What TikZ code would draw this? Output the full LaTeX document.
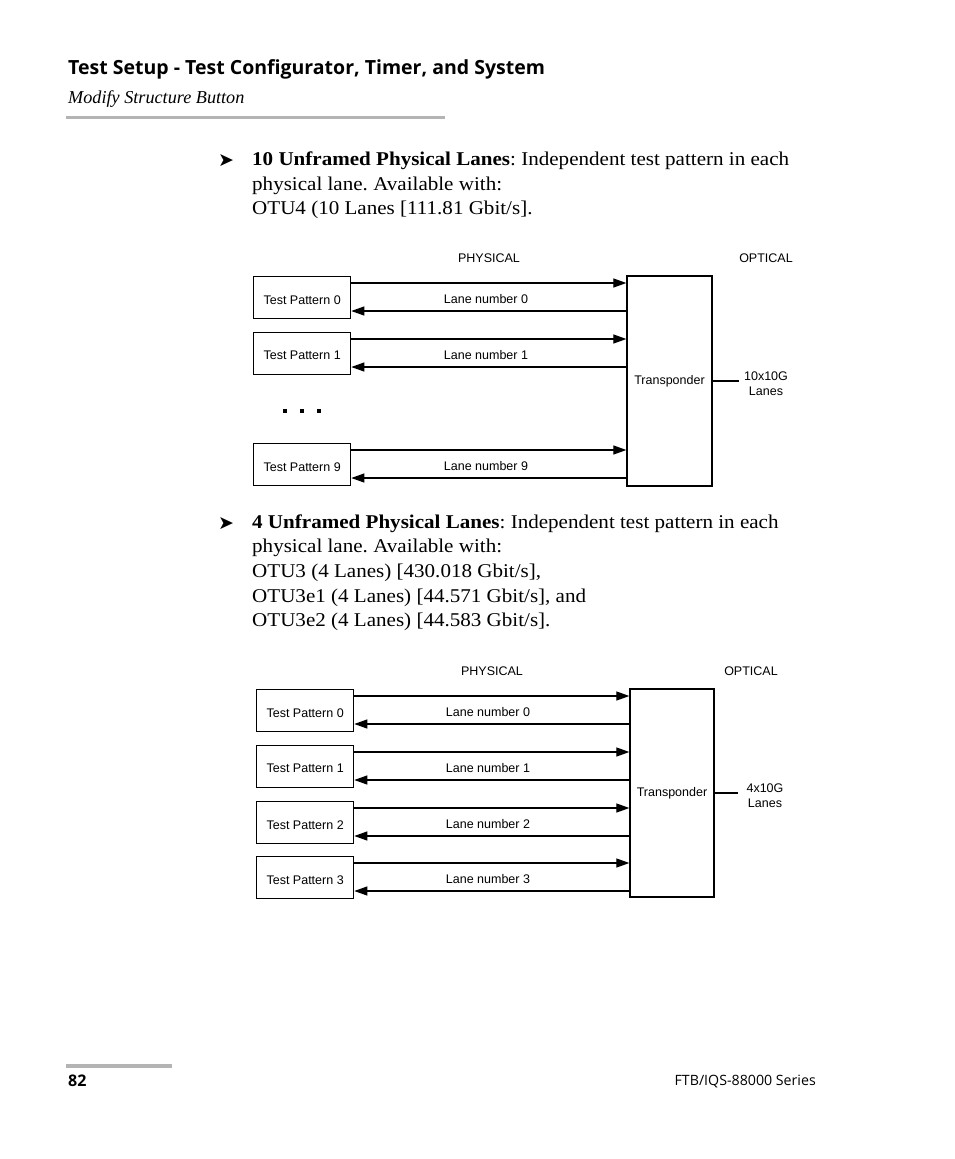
\documentclass[tikz,border=0pt]{standalone}
\usepackage{fontspec}
\setmainfont{Liberation Serif}
\setsansfont{Liberation Sans}
\newfontfamily\bodyfont[FakeStretch=1.08]{Liberation Serif}
\newfontfamily\headfont{Open Sans}
\newfontfamily\symfont{DejaVu Sans}
\usetikzlibrary{arrows.meta}
\definecolor{rulegray}{HTML}{B4B4B4}
\frenchspacing
\newcommand{\lowerlbl}[1]{\raisebox{-2pt}[\height][0pt]{#1}}
\tikzset{
  diagtext/.style={font=\sffamily\fontsize{12.5}{15}\selectfont, inner sep=0pt},
  tpbox/.style={draw, line width=1.3pt, minimum width=97pt, minimum height=42pt, inner sep=0pt, anchor=north west, diagtext},
  trbox/.style={draw, line width=1.3pt, inner sep=0pt, diagtext},
  lanefwd/.style={line width=1.2pt, -{Triangle[length=13pt,width=9pt]}},
  lanelbl/.style={diagtext},
  bodytext/.style={font=\bodyfont\fontsize{19.5}{24}\selectfont, inner sep=0pt, anchor=base west},
  bullet/.style={font=\symfont\fontsize{19}{22}\selectfont, inner sep=0pt, anchor=base west},
}
\begin{document}
\begin{tikzpicture}[x=1pt,y=-1pt]
\useasboundingbox (0,0) rectangle (954,1159);
\fill[white] (0,0) rectangle (954,1159);

% header
\node[font=\headfont\bfseries\fontsize{19.5}{23}\selectfont, inner sep=0pt, anchor=base west] (title) at (68,74) {Test Setup - Test Configurator, Timer, and System};
\node[font=\itshape\fontsize{18.2}{21}\selectfont, inner sep=0pt, anchor=base west] (subtitle) at (68,103) {Modify Structure Button};
\draw[rulegray, line width=3pt] (66,117) -- (445,117);

% bullet 1
\node[bullet] (b1) at (218,166) {➤};
\node[bodytext] (b1l1) at (252,165) {\textbf{10 Unframed Physical Lanes}: Independent test pattern in each};
\node[bodytext] (b1l2) at (252,190) {physical lane. Available with:};
\node[bodytext] (b1l3) at (252,214) {OTU4 (10 Lanes [111.81 Gbit/s].};

% diagram 1
\node[diagtext] (phys1) at (489,258) {PHYSICAL};
\node[diagtext] (opt1) at (766,258) {OPTICAL};
\node[trbox, minimum width=85pt, minimum height=210pt] (tr1) at (669.5,381) {Transponder};
\foreach \i/\y/\lbl in {0/276/0, 1/332/1, 9/443/9}{
  \node[tpbox] (p1\i) at (253,\y) {\lowerlbl{Test Pattern \lbl}};
  \draw[lanefwd] ([yshift=-7pt]p1\i.north east) -- ([yshift=-7pt]p1\i.north east -| tr1.west);
  \draw[lanefwd] ([yshift=-35pt]p1\i.north east -| tr1.west) -- ([yshift=-35pt]p1\i.north east);
  \node[lanelbl] (l1\i) at (486,\y+23.5) {Lane number \lbl};
}
\coordinate (o1) at (739,381);
\draw[line width=1.2pt] (tr1.east) -- (o1);
\node[diagtext, align=center, font=\sffamily\fontsize{12.5}{15}\selectfont] (ol1) at (766,384) {10x10G\\Lanes};
\foreach \x in {285,302,319}{
  \fill (\x-1.6,409.4) rectangle (\x+1.6,412.6);
}

% bullet 2
\node[bullet] (b2) at (218,529) {➤};
\node[bodytext] (b2l1) at (252,528) {\textbf{4 Unframed Physical Lanes}: Independent test pattern in each};
\node[bodytext] (b2l2) at (252,552) {physical lane. Available with:};
\node[bodytext] (b2l3) at (252,577) {OTU3 (4 Lanes) [430.018 Gbit/s],};
\node[bodytext] (b2l4) at (252,602) {OTU3e1 (4 Lanes) [44.571 Gbit/s], and};
\node[bodytext] (b2l5) at (252,626) {OTU3e2 (4 Lanes) [44.583 Gbit/s].};

% diagram 2
\node[diagtext] (phys2) at (492,671) {PHYSICAL};
\node[diagtext] (opt2) at (751,671) {OPTICAL};
\node[trbox, minimum width=84pt, minimum height=208pt] (tr2) at (672,793) {Transponder};
\foreach \i/\y in {0/689, 1/745, 2/801, 3/856}{
  \node[tpbox] (p2\i) at (256,\y) {\lowerlbl{Test Pattern \i}};
  \draw[lanefwd] ([yshift=-7pt]p2\i.north east) -- ([yshift=-7pt]p2\i.north east -| tr2.west);
  \draw[lanefwd] ([yshift=-35pt]p2\i.north east -| tr2.west) -- ([yshift=-35pt]p2\i.north east);
  \node[lanelbl] (l2\i) at (488,\y+23.5) {Lane number \i};
}
\coordinate (o2) at (738,793);
\draw[line width=1.2pt] (tr2.east) -- (o2);
\node[diagtext, align=center, font=\sffamily\fontsize{12.5}{15}\selectfont] (ol2) at (765,796) {4x10G\\Lanes};

% footer
\draw[rulegray, line width=4pt] (66,1066) -- (172,1066);
\node[font=\headfont\bfseries\fontsize{16}{19}\selectfont, inner sep=0pt, anchor=base west] (pg) at (68,1086) {82};
\node[font=\headfont\fontsize{14.2}{17}\selectfont, inner sep=0pt, anchor=base east] (series) at (816,1085) {FTB/IQS-88000 Series};
\end{tikzpicture}
\end{document}
